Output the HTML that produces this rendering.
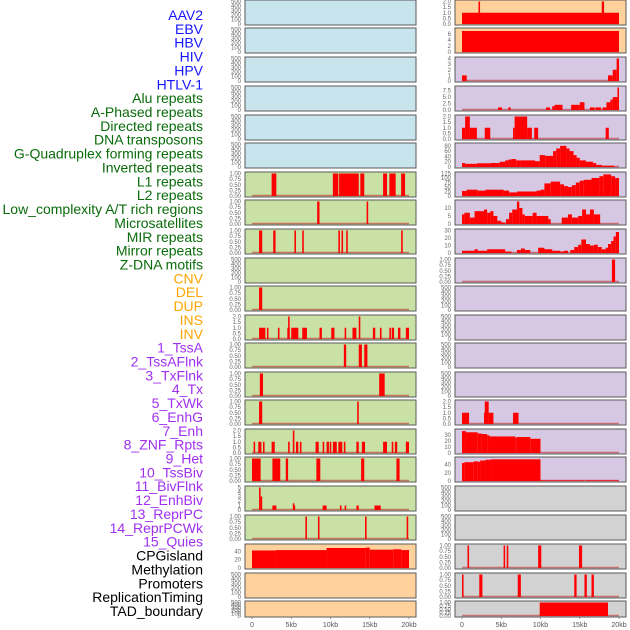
<!DOCTYPE html>
<html><head><meta charset="utf-8"><style>
html,body{margin:0;padding:0;background:#fff;}
svg{display:block;font-family:"Liberation Sans",sans-serif;}
</style></head><body>
<svg id="chart" width="630" height="630" viewBox="0 0 630 630">
<g id="labels"></g>
<g id="panels"></g>
<g id="xaxes"></g>
</svg>
<script>
// ---- labels ----
const labelNames = ["AAV2","EBV","HBV","HIV","HPV","HTLV-1","Alu repeats","A-Phased repeats","Directed repeats","DNA transposons","G-Quadruplex forming repeats","Inverted repeats","L1 repeats","L2 repeats","Low_complexity A/T rich regions","Microsatellites","MIR repeats","Mirror repeats","Z-DNA motifs","CNV","DEL","DUP","INS","INV","1_TssA","2_TssAFlnk","3_TxFlnk","4_Tx","5_TxWk","6_EnhG","7_Enh","8_ZNF_Rpts","9_Het","10_TssBiv","11_BivFlnk","12_EnhBiv","13_ReprPC","14_ReprPCWk","15_Quies","CPGisland","Methylation","Promoters","ReplicationTiming","TAD_boundary"];
const labelGroups = [0,0,0,0,0,0,1,1,1,1,1,1,1,1,1,1,1,1,1,2,2,2,2,2,3,3,3,3,3,3,3,3,3,3,3,3,3,3,3,4,4,4,4,4];
const groupColors = ["#1515ff","#0a6b0a","#ffa500","#a030f0","#000000"];

// ---- left column tracks (segments: [startKb, endKb, value]) ----
const segL1 = [[2.5,3.1,1],[10.3,11.0,1],[11.1,13.6,1],[13.8,14.3,1],[16.7,17.2,1],[17.5,18.3,1],[19.0,19.5,1]];
const segLowAT = [[8.3,8.6,1],[14.6,14.8,1]];
const segMIR = [[0.9,1.3,1],[2.7,3.0,1],[5.4,5.6,1],[6.4,6.6,1],[11.0,11.2,1],[11.4,11.6,1],[12.0,12.2,1],[19.0,19.2,1]];
const segMirror = [[0.9,1.3,1]];
const segZDNA = [[0.9,1.7,1],[1.9,2.1,1],[3.3,3.5,1],[4.5,4.8,1],[4.6,4.8,2],[5.0,5.9,1],[6.4,7.0,1],[8.6,8.9,1],[10.1,10.5,1],[11.8,12.0,1],[12.8,13.3,1],[13.6,13.8,2],[15.4,15.7,1],[16.3,16.5,1],[17.5,17.7,1],[17.8,18.1,1],[18.6,18.9,1],[19.6,20.0,1]];
const segDEL = [[11.7,12.0,1],[13.6,14.0,1],[14.3,14.7,1]];
const segDUP = [[1.0,1.4,1],[16.2,16.9,1]];
const segINS = [[0.9,1.3,1],[13.4,13.6,1]];
const segINV = [[0.2,0.4,1],[0.8,1.2,1],[1.4,1.6,1],[2.5,2.9,1],[4.6,4.8,1],[5.2,5.4,2],[5.6,5.9,1],[6.1,6.3,1],[8.1,8.5,1],[9.0,9.2,1],[9.5,9.8,1],[9.9,10.1,1],[10.3,10.8,1],[11.0,11.5,1],[11.7,11.9,1],[13.3,13.6,1],[14.0,14.4,1],[16.7,17.2,1],[17.8,18.0,1],[18.2,18.5,1],[19.6,20.0,1]];
const segTssA = [[0.0,1.1,1],[2.6,3.6,1],[4.3,4.6,1],[8.2,8.7,1],[13.9,14.3,1],[18.4,18.8,1]];
const segTssAFlnk = [[0.9,1.1,5],[1.1,1.3,3],[2.6,3.1,1],[5.2,5.4,1.5],[5.3,5.5,1],[9.0,9.5,1],[11.2,11.4,1],[11.8,12.0,1],[13.3,13.6,1],[15.6,16.4,1]];
const segTxFlnk = [[6.8,7.0,1],[8.4,8.6,1],[14.4,14.6,1],[19.7,19.9,1]];
const segCpG = [[0,3,42],[3,9.5,43],[9.5,14.5,48],[14.5,15,49],[15,18,44],[18,19,45],[19,20,43]];

// ---- right column tracks ----
const segR0 = [[0,20,1],[2.1,2.3,2],[17.8,18.1,2]];
const segR1 = [[0,20,7]];
const segR2 = [[0,0.6,1],[18.6,19.2,1],[19.2,19.7,2],[19.7,20,4]];
const segR3 = [[4.6,5.1,1],[5.9,6.2,1],[10.7,11.2,1],[11.5,11.8,1.5],[11.8,12.8,2],[13.9,15.0,2],[15.0,15.6,3],[16.3,16.9,1],[17.0,17.7,1],[17.9,18.4,1],[18.4,18.9,3],[18.9,19.2,4],[19.2,19.8,5],[19.8,20,8.7]];
const segR4 = [[0,0.4,1],[0.4,1.0,2],[1.0,1.9,1],[2.9,3.6,1],[6.5,6.7,1],[6.7,8.3,2],[8.3,8.9,1],[9.2,9.7,1],[18.3,18.7,1]];
const segR5 = [[0,0.4,15],[0.4,1.9,12],[1.9,3.6,14],[3.6,4.8,15],[4.8,5.5,20],[5.5,5.9,25],[5.9,6.3,28],[6.3,6.9,30],[6.9,7.4,25],[7.4,9.3,25],[9.3,9.9,22],[9.9,10.6,45],[10.6,11.6,42],[11.6,12.0,60],[12.0,12.5,70],[12.5,13.3,80],[13.3,13.7,70],[13.7,14.2,60],[14.2,14.6,45],[14.6,15,35],[15,15.8,25],[15.8,16.7,20],[16.7,17.1,15],[17.1,17.8,8],[17.8,19.4,5]];
const segR6 = [[0,0.6,28],[0.6,2,35],[2,3,30],[3,5.3,35],[5.3,6,30],[6,7,20],[7,9.5,25],[9.5,10,30],[10,10.5,35],[10.5,11.3,70],[11.3,12.5,80],[12.5,13,65],[13,13.5,55],[13.5,14,50],[14,14.5,60],[14.5,15,75],[15,15.5,85],[15.5,16.5,90],[16.5,17.5,100],[17.5,18,110],[18,19,120],[19,19.5,110],[19.5,20,100]];
const segR7 = [[0,0.3,6],[0.3,1,7],[1,1.6,4],[1.6,2.8,8],[2.8,3.2,9],[3.2,3.6,7],[3.6,4,8],[4,4.5,5],[4.5,5,2],[5,5.5,1],[5.6,6,3],[6,6.4,7],[6.4,7,9],[7,7.3,14],[7.3,7.7,10],[7.7,8,6],[8,9,5],[9,9.5,7],[9.5,11,5],[11,11.3,3],[12.7,13.5,4],[13.5,14,6],[14,14.8,4],[14.8,15.3,5],[15.3,15.8,9],[15.8,16.3,6],[16.3,16.8,9],[16.8,17.6,6]];
const segR8 = [[0,1.6,3],[1.6,2,5],[2,3.2,3],[3.2,5.5,5],[5.5,6.3,2],[7,7.5,4],[7.5,8,6],[8,8.7,4],[9.7,10.5,7],[10.5,11.5,5],[11.5,12.5,3],[12.5,13,2],[13,13.5,3],[13.8,14.3,4],[14.3,14.8,8],[14.8,15.2,11],[15.2,15.8,18],[15.8,16.3,12],[16.3,16.8,10],[16.8,17.3,11],[17.3,17.8,8],[17.8,18.3,5],[18.3,18.6,7],[18.6,19,12],[19,19.3,16],[19.3,19.6,22],[19.6,20,28]];
const segR9 = [[19.1,19.5,1]];
const segR14 = [[0,0.9,1],[2.8,3.4,1],[2.9,3.4,2],[3.4,4.0,1],[6.5,7.2,1]];
const segR15 = [[0,0.5,37],[0.5,2,35],[2,2.5,33],[2.5,3.2,32],[3.2,3.5,30],[3.5,6.8,28],[6.8,7,26],[7,8.7,27],[8.7,10,24]];
const segR16 = [[0,0.3,44],[0.3,1.5,46],[1.5,2,48],[2,2.3,47],[2.3,3,50],[3,3.7,52],[3.7,10,53],[10,15.5,1.5],[15.7,20,1.5]];
const segR19 = [[0.7,0.9,1],[5.3,5.5,1],[5.7,5.9,1],[9.7,10.1,1],[14.9,15.3,1]];
const segR20 = [[0,0.2,1],[2.2,2.6,1],[7.1,7.5,1],[14.3,14.6,1],[15.6,15.9,1],[16.5,16.8,1]];
const segR21 = [[9.9,18.6,1]];

const E = null;
const leftSegs  = [E,E,E,E,E,E,segL1,segLowAT,segMIR,E,segMirror,segZDNA,segDEL,segDUP,segINS,segINV,segTssA,segTssAFlnk,segTxFlnk,segCpG,E,E];
const leftYmax  = [500,500,500,500,500,500,1,1,1,500,1,2,1,1,1,2,1,5,1,54,500,500];
const rightSegs = [segR0,segR1,segR2,segR3,segR4,segR5,segR6,segR7,segR8,segR9,E,E,E,E,segR14,segR15,segR16,E,E,segR19,segR20,segR21];
const rightYmax = [2,7.5,4,8.7,2,85,125,14,30,1,500,500,500,500,2,38,55,500,500,1,1,1];

const T500 = ["0","100","200","300","400","500"];
const T1 = ["0.00","0.25","0.50","0.75","1.00"];
const T2 = ["0.0","0.5","1.0","1.5","2.0"];
const leftTicks  = [T500,T500,T500,T500,T500,T500,T1,T1,T1,T500,T1,T2,T1,T1,T1,T2,T1,["0","1","2","3","4","5"],T1,["0","20","40"],T500,T500];
const rightTicks = [T2,["0","2","4","6"],["0","1","2","3","4"],["0.0","2.5","5.0","7.5"],T2,["0","20","40","60","80"],["0","25","50","75","100","125"],["0","5","10"],["0","10","20","30"],T1,T500,T500,T500,T500,T2,["0","10","20","30"],["0","20","40"],T500,T500,T1,T1,T1];

const xTickLabels = ["0","5kb","10kb","15kb","20kb"];
const xTickVals = [0,5,10,15,20];

const rowTops = [0,28,57,86,115,143,172,200,229,258,286,315,343,372,400,429,457,486,515,544,573,601];
const BLUE="#c8e4ec", GREEN="#c9e1a5", ORANGE="#fed19d", PURPLE="#d6c7e3", GRAY="#d2d2d2";
const leftBg  = [BLUE,BLUE,BLUE,BLUE,BLUE,BLUE,GREEN,GREEN,GREEN,GREEN,GREEN,GREEN,GREEN,GREEN,GREEN,GREEN,GREEN,GREEN,GREEN,ORANGE,ORANGE,ORANGE];
const rightBg = [ORANGE,ORANGE,PURPLE,PURPLE,PURPLE,PURPLE,PURPLE,PURPLE,PURPLE,PURPLE,PURPLE,PURPLE,PURPLE,PURPLE,PURPLE,PURPLE,PURPLE,GRAY,GRAY,GRAY,GRAY,GRAY];

const NS="http://www.w3.org/2000/svg";
function mk(tag, attrs, parent){const e=document.createElementNS(NS,tag);for(const k in attrs)e.setAttribute(k,attrs[k]);parent.appendChild(e);return e;}

// labels
const lg=document.getElementById('labels');
labelNames.forEach((n,i)=>{
  const t=mk('text',{x:203,y:15+i*13.86+5,'text-anchor':'end','font-size':'14',fill:groupColors[labelGroups[i]]},lg);
  
  
  t.textContent=n;
});

const pg=document.getElementById('panels');
const cols=[{x0:245,w:171,z:252,segs:leftSegs,ymax:leftYmax,ticks:leftTicks,bg:leftBg,tx:241,name:'left'},
            {x0:455,w:171,z:462,segs:rightSegs,ymax:rightYmax,ticks:rightTicks,bg:rightBg,tx:451,name:'right'}];
const kbPx = 157/20;
cols.forEach(c=>{
  const xs = kb => c.z + kb*kbPx;
  rowTops.forEach((top,r)=>{
    const h = r===21?16:25;
    const g=mk('g',{},pg);
    
    
    mk('rect',{x:c.x0,y:top,width:c.w,height:h,fill:c.bg[r],stroke:'#5a5a5a','stroke-width':1},g);
    const ybot = top+h-1, ytop = top+1.5;
    const ymax = c.ymax[r];
    const ys = v => ybot - (v/ymax)*(ybot-ytop);
    // ticks
    const tk=c.ticks[r];
    tk.forEach(lbl=>{
      const v=parseFloat(lbl);
      const t=mk('text',{x:c.tx,y:ys(v)+2,'text-anchor':'end','font-size':'6',fill:'#666'},g);
      
      
      t.textContent=lbl;
    });
    const segs=c.segs[r];
    if(segs){
      mk('line',{x1:xs(0),x2:xs(20),y1:ybot-0.5,y2:ybot-0.5,stroke:'#c03030','stroke-width':1.5,'stroke-opacity':0.6},g);
      segs.forEach(s=>{
        const b=mk('rect',{x:xs(s[0]),y:ys(s[2]),width:Math.max(1,xs(s[1])-xs(s[0])),height:ybot-ys(s[2]),fill:'#ff0000'},g);
        
        
      });
    }
  });
  // x axis
  const xg=document.getElementById('xaxes');
  xTickVals.forEach((v,i)=>{
    mk('line',{x1:xs(v),x2:xs(v),y1:617,y2:619,stroke:'#666','stroke-width':0.6},xg);
    const t=mk('text',{x:xs(v),y:627,'text-anchor':'middle','font-size':'7',fill:'#555'},xg);
    
    
    t.textContent=xTickLabels[i];
  });
});
</script>
</body></html>
